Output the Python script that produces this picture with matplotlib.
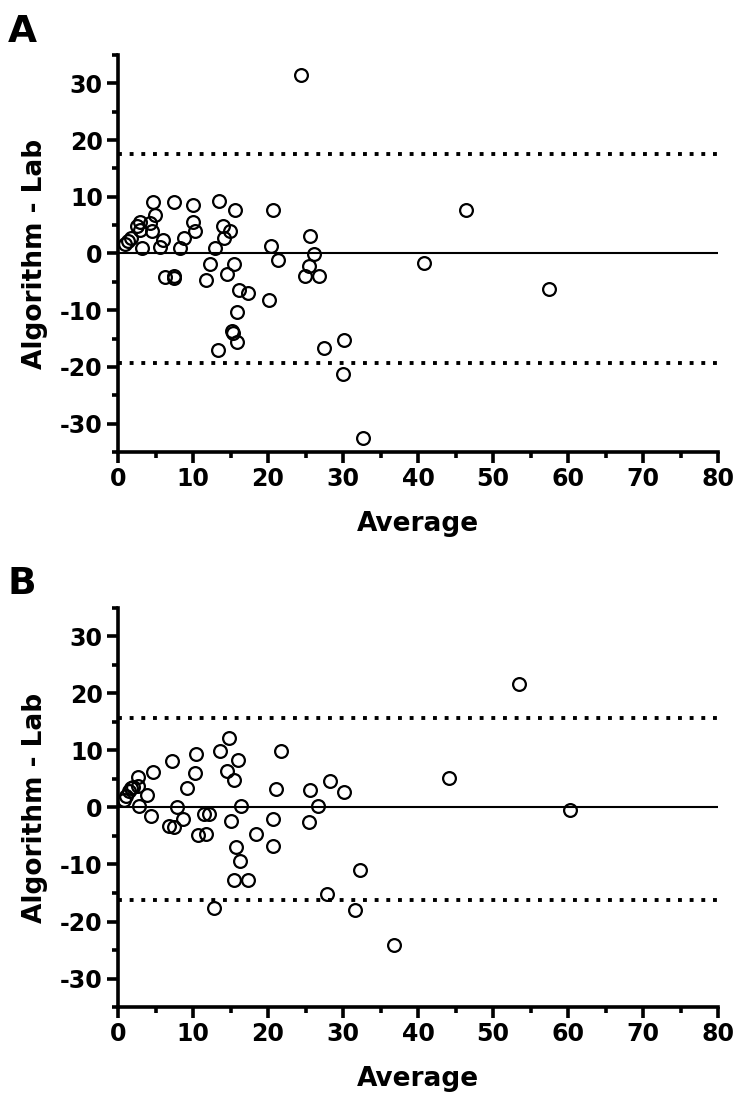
"""
Bland-Altman plots: Algorithm vs Lab (panels A and B)
"""
import matplotlib
matplotlib.use("Agg")
import matplotlib.pyplot as plt
from matplotlib.ticker import MultipleLocator

plt.rcParams['font.family'] = ['DejaVu Sans']
plt.rcParams['font.weight'] = 'bold'
plt.rcParams['axes.unicode_minus'] = False

# Panel A: average vs difference
avg_a = [0.9, 1.3, 1.7, 3.2, 2.5, 2.9, 2.9, 4.2, 4.6, 4.9, 4.5, 6.0, 5.6, 7.5,
         8.2, 8.8, 10.0, 10.0, 10.2, 6.2, 7.4, 7.5, 12.9, 13.5, 14.0, 14.1, 14.9,
         15.6, 12.3, 11.7, 14.5, 15.5, 16.1, 17.3, 20.1, 20.6, 20.4, 21.3, 25.6,
         26.1, 25.5, 24.9, 26.8, 15.9, 15.2, 15.3, 15.9, 13.3, 27.4, 30.1, 30.0,
         32.7, 24.4, 40.8, 46.4, 57.5]
diff_a = [1.7, 2.2, 2.8, 1.0, 4.9, 5.5, 4.2, 5.4, 9.1, 6.8, 3.9, 2.4, 1.2, 9.0,
          1.0, 2.7, 8.5, 5.5, 3.9, -4.2, -4.0, -4.4, 1.0, 9.2, 4.8, 2.8, 3.9,
          7.7, -1.8, -4.6, -3.7, -1.9, -6.4, -6.9, -8.2, 7.6, 1.3, -1.2, 3.1,
          -0.1, -2.2, -3.9, -4.0, -10.4, -13.6, -14.0, -15.6, -17.0, -16.6, -15.3,
          -21.3, -32.5, 31.5, -1.7, 7.7, -6.3]
limits_a = [17.5, -19.3]

# Panel B
avg_b = [0.8, 1.1, 1.4, 1.7, 2.0, 2.7, 2.7, 3.8, 2.8, 4.6, 4.4, 7.2, 7.8, 8.6,
         9.2, 10.2, 10.4, 6.8, 7.5, 11.5, 12.1, 10.7, 11.7, 13.6, 14.8, 14.5,
         15.4, 16.0, 16.4, 15.0, 18.4, 15.7, 16.3, 15.5, 17.3, 12.8, 20.7, 20.7,
         21.7, 21.1, 25.6, 26.6, 25.5, 28.3, 30.1, 27.9, 31.6, 32.2, 36.8, 44.1,
         53.4, 60.3]
diff_b = [1.3, 2.1, 2.9, 3.5, 3.6, 3.7, 5.4, 2.2, 0.2, 6.3, -1.5, 8.1, 0.1, -2.0,
          3.5, 6.0, 9.4, -3.2, -3.5, -1.2, -1.1, -4.8, -4.6, 9.9, 12.2, 6.4,
          4.8, 8.4, 0.2, -2.4, -4.6, -7.0, -9.4, -12.7, -12.7, -17.7, -6.7, -2.1,
          9.9, 3.2, 3.0, 0.2, -2.6, 4.6, 2.7, -15.2, -17.9, -11.0, -24.1, 5.2,
          21.7, -0.4]
limits_b = [15.7, -16.2]

panels = [
    ("A", avg_a, diff_a, limits_a, [0.1595, 0.5913, 0.8108, 0.359], 0.987),
    ("B", avg_b, diff_b, limits_b, [0.1595, 0.0895, 0.8108, 0.3608], 0.488),
]

fig = plt.figure(figsize=(7.4, 11.06), dpi=100)

for letter, xs, ys, lims, rect, letter_y in panels:
    ax = fig.add_axes(rect)
    ax.plot(xs, ys, 'o', ms=9.2, mfc='none', mec='black', mew=1.6,
            clip_on=False, zorder=3)
    ax.axhline(0, color='black', lw=1.5, zorder=2)
    for lim in lims:
        ax.axhline(lim, color='black', lw=2.8, linestyle=(0, (1.0, 2.0)),
                   dash_capstyle='butt', zorder=2)

    ax.set_xlim(0, 80)
    ax.set_ylim(-35, 35)
    ax.xaxis.set_major_locator(MultipleLocator(10))
    ax.xaxis.set_minor_locator(MultipleLocator(5))
    ax.yaxis.set_minor_locator(MultipleLocator(5))
    ax.set_yticks([-30, -20, -10, 0, 10, 20, 30])

    for side in ['top', 'right']:
        ax.spines[side].set_visible(False)
    for side in ['left', 'bottom']:
        ax.spines[side].set_linewidth(2.6)

    ax.tick_params(which='major', length=8, width=2.6, labelsize=17, pad=3)
    ax.tick_params(which='minor', length=4, width=2.6)
    for lab in ax.get_xticklabels() + ax.get_yticklabels():
        lab.set_fontweight('bold')

    ax.set_xlabel("Average", fontsize=19, fontweight='bold', labelpad=14)
    ax.set_ylabel("Algorithm - Lab", fontsize=19, fontweight='bold', labelpad=9)

    fig.text(0.010, letter_y, letter, fontsize=27, fontweight='bold',
             va='top', ha='left')

fig.savefig("out.png", dpi=100)
